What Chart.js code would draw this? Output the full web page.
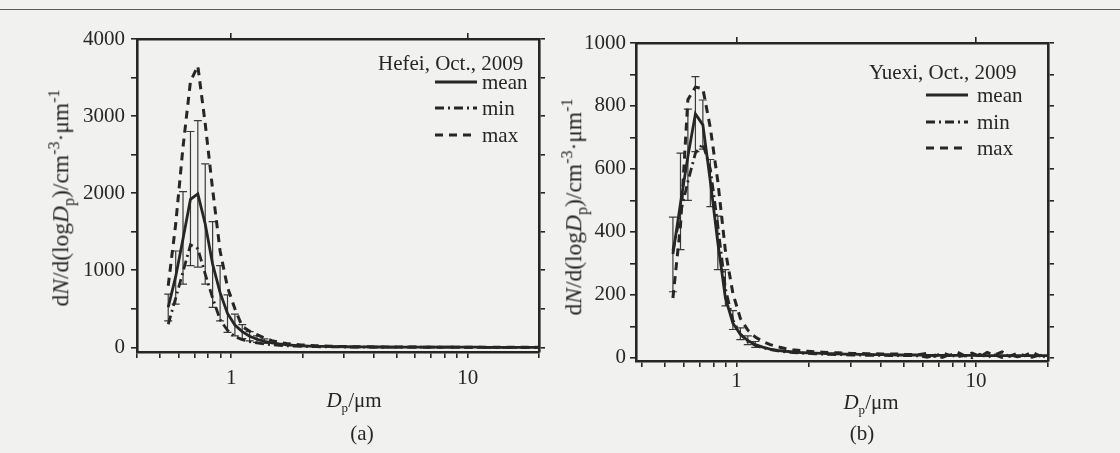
<!DOCTYPE html>
<html>
<head>
<meta charset="utf-8">
<script src="https://cdn.jsdelivr.net/npm/chart.js@4.4.0/dist/chart.umd.min.js"></script>
<style>
  body { margin: 0; width: 1120px; height: 453px; overflow: hidden; position: relative;
         background: #f1f1ef; color: #262626; font-family: 'Liberation Serif', 'Times New Roman', serif; }
  .rule { position: absolute; left: 0; top: 9px; width: 1120px; border-top: 1.5px solid #5c5c5c; }
  .panel { position: absolute; top: 0; }
  .lbl { position: absolute; font-size: 21px; line-height: 1; white-space: nowrap; }
  .lbl sub, .lbl sup { font-size: 0.62em; line-height: 0; }
  .ytitle { font-size: 23.5px; transform: translate(-50%, -50%) rotate(-90deg); }
  .ytitle sub, .ytitle sup { font-size: 0.68em; }
  .ctr { transform: translate(-50%, -50%); }
  .mid { transform: translateY(-50%); }
  .sample { position: absolute; }
</style>
</head>
<body>
<div class="rule"></div>
<div class="panel" style="left:0;width:560px;height:400px"><canvas id="chartA" width="560" height="400"></canvas></div>
<div class="panel" style="left:560px;width:560px;height:409px"><canvas id="chartB" width="560" height="409"></canvas></div>

<div class="lbl ytitle" style="left:61px;top:198px">d<i>N</i>/d(log<i>D</i><sub>p</sub>)/cm<sup>-3</sup>·μm<sup>-1</sup></div>
<div class="lbl ytitle" style="left:574px;top:207px">d<i>N</i>/d(log<i>D</i><sub>p</sub>)/cm<sup>-3</sup>·μm<sup>-1</sup></div>
<div class="lbl ctr" style="left:354px;top:400px"><i>D</i><sub>p</sub>/μm</div>
<div class="lbl ctr" style="left:871px;top:402px"><i>D</i><sub>p</sub>/μm</div>
<div class="lbl ctr" style="left:362px;top:433px">(a)</div>
<div class="lbl ctr" style="left:862px;top:433px">(b)</div>

<script>
// particle diameter bins (um)
var dpBins = [0.542, 0.583, 0.626, 0.673, 0.723, 0.777, 0.835, 0.898, 0.965, 1.037,
  1.114, 1.197, 1.286, 1.382, 1.486, 1.596, 1.715, 1.843, 1.981, 2.129,
  2.288, 2.458, 2.642, 2.839, 3.051, 3.278, 3.523, 3.786, 4.068, 4.371,
  4.698, 5.048, 5.425, 5.829, 6.264, 6.732, 7.234, 7.774, 8.354, 8.977,
  9.647, 10.37, 11.14, 11.97, 12.86, 13.82, 14.86, 15.96, 17.15, 18.43, 19.81];

// (a) Hefei
var meanA = [520, 920, 1410, 1920, 1990, 1600, 1080, 710, 440, 290,
  205, 145, 105, 78, 58, 44, 34, 27, 21, 17,
  14, 12, 10, 9, 8, 7, 6, 6, 5, 5,
  4, 4, 4, 3, 3, 3, 3, 2, 2, 2,
  2, 2, 2, 1, 1, 1, 1, 1, 1, 1, 1];
var minA = [300, 640, 980, 1330, 1280, 950, 640, 360, 220, 140,
  100, 75, 57, 44, 34, 27, 21, 17, 14, 11,
  9, 8, 7, 6, 5, 5, 4, 4, 3, 3,
  3, 3, 2, 2, 2, 2, 2, 2, 2, 2,
  1, 1, 1, 1, 1, 1, 1, 1, 1, 1, 1];
var maxA = [800, 1600, 2600, 3450, 3650, 2900, 2050, 1250, 780, 500,
  270, 210, 165, 120, 88, 66, 50, 40, 32, 26,
  21, 17, 14, 12, 10, 9, 8, 7, 6, 5,
  5, 4, 4, 4, 3, 3, 3, 3, 2, 2,
  2, 2, 2, 2, 1, 1, 1, 1, 1, 1, 1];
var errLoA = [345, 560, 820, 1060, 1040, 820, 520, 345, 195, 150, 115, 85, 65, 50];
var errHiA = [690, 1250, 2020, 2800, 2940, 2380, 1630, 1060, 680, 430, 295, 205, 150, 110];

// (b) Yuexi
var meanB = [330, 490, 640, 775, 740, 560, 365, 190, 110, 75,
  55, 42, 34, 28, 24, 21, 19, 17, 16, 15,
  14, 13, 13, 12, 12, 11, 11, 10, 10, 10,
  9, 9, 9, 9, 8, 8, 8, 8, 8, 8,
  8, 7, 7, 7, 7, 7, 7, 7, 7, 7, 7];
var minB = [340, 460, 560, 650, 680, 600, 420, 220, 120, 75,
  52, 40, 32, 26, 22, 19, 17, 15, 14, 13,
  12, 11, 10, 10, 9, 9, 8, 8, 8, 7,
  7, 7, 7, 6, 2, 9, 1, 10, 3, 8,
  0, 11, 2, 9, 1, 10, 3, 8, 2, 9, 1];
var maxB = [190, 420, 820, 860, 855, 730, 560, 340, 205, 125,
  88, 66, 52, 42, 35, 30, 26, 23, 21, 19,
  18, 17, 16, 15, 14, 14, 13, 13, 12, 12,
  12, 11, 11, 11, 14, 5, 16, 8, 18, 6,
  15, 4, 17, 9, 19, 5, 14, 7, 18, 6, 15];
var errLoB = [210, 344, 500, 655, 663, 480, 280, 165, 90, 58, 42, 33];
var errHiB = [447, 650, 790, 893, 819, 630, 450, 280, 150, 95, 70, 52];

// ticks
var xTickValues = [0.4, 0.5, 0.6, 0.7, 0.8, 0.9, 1, 2, 3, 4, 5, 6, 7, 8, 9, 10, 20];
var xLabelValues = [1, 10];
var xTopTicks = [1, 10];
var yTicksA = [0, 500, 1000, 1500, 2000, 2500, 3000, 3500, 4000];
var yLabelsA = [0, 1000, 2000, 3000, 4000];
var yTicksB = [0, 100, 200, 300, 400, 500, 600, 700, 800, 900, 1000];
var yLabelsB = [0, 200, 400, 600, 800, 1000];

var ink = '#262626';
var tickFont = { family: "'Liberation Serif', 'Times New Roman', serif", size: 21 };
var styles = {
  mean: { borderDash: [], borderWidth: 2.8 },
  min: { borderDash: [9, 4, 2, 4], borderWidth: 2.8 },
  max: { borderDash: [8, 6], borderWidth: 3 }
};

var errorBarPlugin = {
  id: 'errorBars',
  beforeDatasetsDraw: function(chart, args, opts) {
    var ctx = chart.ctx, x = chart.scales.x, y = chart.scales.y;
    ctx.save();
    ctx.strokeStyle = '#3a3a3a';
    ctx.lineWidth = 1.2;
    for (var i = 0; i < opts.lo.length; i++) {
      var px = x.getPixelForValue(opts.xs[i]);
      var p1 = y.getPixelForValue(opts.lo[i]);
      var p2 = y.getPixelForValue(opts.hi[i]);
      ctx.beginPath();
      ctx.moveTo(px, p1); ctx.lineTo(px, p2);
      ctx.moveTo(px - 4, p1); ctx.lineTo(px + 4, p1);
      ctx.moveTo(px - 4, p2); ctx.lineTo(px + 4, p2);
      ctx.stroke();
    }
    ctx.restore();
  }
};

function points(ys) {
  return dpBins.map(function(x, i) { return { x: x, y: ys[i] }; });
}

function series(label, ys) {
  return {
    label: label,
    data: points(ys),
    borderColor: ink,
    borderWidth: styles[label].borderWidth,
    borderDash: styles[label].borderDash,
    pointRadius: 0,
    tension: 0,
    fill: false
  };
}

function axisStyle() {
  return {
    grid: { drawOnChartArea: false, drawTicks: true, tickLength: 6, color: ink, lineWidth: 1.6 },
    border: { display: true, color: ink, width: 2.6 }
  };
}

function makeChart(id, g) {
  var ctx = document.getElementById(id).getContext('2d');
  var xAxis = Object.assign(axisStyle(), {
    type: 'logarithmic', position: 'bottom', min: g.xMin, max: g.xMax,
    afterBuildTicks: function(s) { s.ticks = xTickValues.map(function(v) { return { value: v }; }); },
    afterFit: function(s) { s.height = g.xHeight; },
    ticks: { autoSkip: false, maxRotation: 0, padding: g.xPad, font: tickFont, color: ink,
      callback: function(v) { return xLabelValues.indexOf(v) >= 0 ? String(v) : ''; } }
  });
  var xTop = Object.assign(axisStyle(), {
    type: 'logarithmic', position: 'top', min: g.xMin, max: g.xMax,
    afterBuildTicks: function(s) { s.ticks = xTopTicks.map(function(v) { return { value: v }; }); },
    afterFit: function(s) { s.height = 10; },
    ticks: { autoSkip: false, maxRotation: 0, callback: function() { return ''; } }
  });
  var yAxis = Object.assign(axisStyle(), {
    type: 'linear', position: 'left', min: g.yMin, max: g.yMax,
    afterBuildTicks: function(s) { s.ticks = g.yTicks.map(function(v) { return { value: v }; }); },
    afterFit: function(s) { s.width = g.yWidth; },
    ticks: { autoSkip: false, padding: g.yPad, font: tickFont, color: ink,
      callback: function(v) { return g.yLabels.indexOf(v) >= 0 ? String(v) : ''; } }
  });
  var yRight = Object.assign(axisStyle(), {
    type: 'linear', position: 'right', min: g.yMin, max: g.yMax,
    afterBuildTicks: function(s) { s.ticks = g.yTicks.map(function(v) { return { value: v }; }); },
    afterFit: function(s) { s.width = 10; },
    ticks: { autoSkip: false, callback: function() { return ''; } }
  });

  return new Chart(ctx, {
    type: 'line',
    data: {
      datasets: [series('mean', g.mean), series('min', g.min), series('max', g.max)]
    },
    options: {
      responsive: false,
      animation: false,
      devicePixelRatio: 1,
      layout: { padding: { left: 0, right: g.padRight, top: g.padTop, bottom: 0 } },
      scales: { x: xAxis, x2: xTop, y: yAxis, y2: yRight },
      plugins: {
        legend: { display: false },
        tooltip: { enabled: false },
        errorBars: { xs: dpBins, lo: g.errLo, hi: g.errHi }
      }
    },
    plugins: [errorBarPlugin]
  });
}

var chartA = makeChart('chartA', {
  mean: meanA, min: minA, max: maxA, errLo: errLoA, errHi: errHiA,
  xMin: 0.4, xMax: 20, yMin: -60, yMax: 4000, yTicks: yTicksA, yLabels: yLabelsA,
  yWidth: 137, yPad: 6, xHeight: 48, xPad: 8, padRight: 11, padTop: 29
});
var chartB = makeChart('chartB', {
  mean: meanB, min: minB, max: maxB, errLo: errLoB, errHi: errHiB,
  xMin: 0.38, xMax: 20, yMin: -10, yMax: 1000, yTicks: yTicksB, yLabels: yLabelsB,
  yWidth: 76, yPad: 4, xHeight: 48, xPad: 2, padRight: 62, padTop: 33
});

// in-plot legends
function addLegend(chart, title, left, titleY, sampleX, textX, rowYs) {
  var t = document.createElement('div');
  t.className = 'lbl mid';
  t.style.left = left + 'px';
  t.style.top = titleY + 'px';
  t.textContent = title;
  document.body.appendChild(t);
  chart.data.datasets.forEach(function(ds, i) {
    var svg = document.createElementNS('http://www.w3.org/2000/svg', 'svg');
    svg.setAttribute('class', 'sample');
    svg.setAttribute('width', 42);
    svg.setAttribute('height', 6);
    svg.style.left = sampleX + 'px';
    svg.style.top = (rowYs[i] - 3) + 'px';
    var line = document.createElementNS('http://www.w3.org/2000/svg', 'line');
    line.setAttribute('x1', 0); line.setAttribute('y1', 3);
    line.setAttribute('x2', 42); line.setAttribute('y2', 3);
    line.setAttribute('stroke', ink);
    line.setAttribute('stroke-width', ds.borderWidth);
    if (ds.borderDash.length) line.setAttribute('stroke-dasharray', ds.borderDash.join(' '));
    svg.appendChild(line);
    document.body.appendChild(svg);
    var lab = document.createElement('div');
    lab.className = 'lbl mid';
    lab.style.left = textX + 'px';
    lab.style.top = rowYs[i] + 'px';
    lab.textContent = ds.label;
    document.body.appendChild(lab);
  });
}

addLegend(chartA, 'Hefei, Oct., 2009', 378, 63, 435, 482, [82, 108, 135]);
addLegend(chartB, 'Yuexi, Oct., 2009', 869, 72, 926, 977, [95, 122, 148]);
</script>
</body>
</html>
